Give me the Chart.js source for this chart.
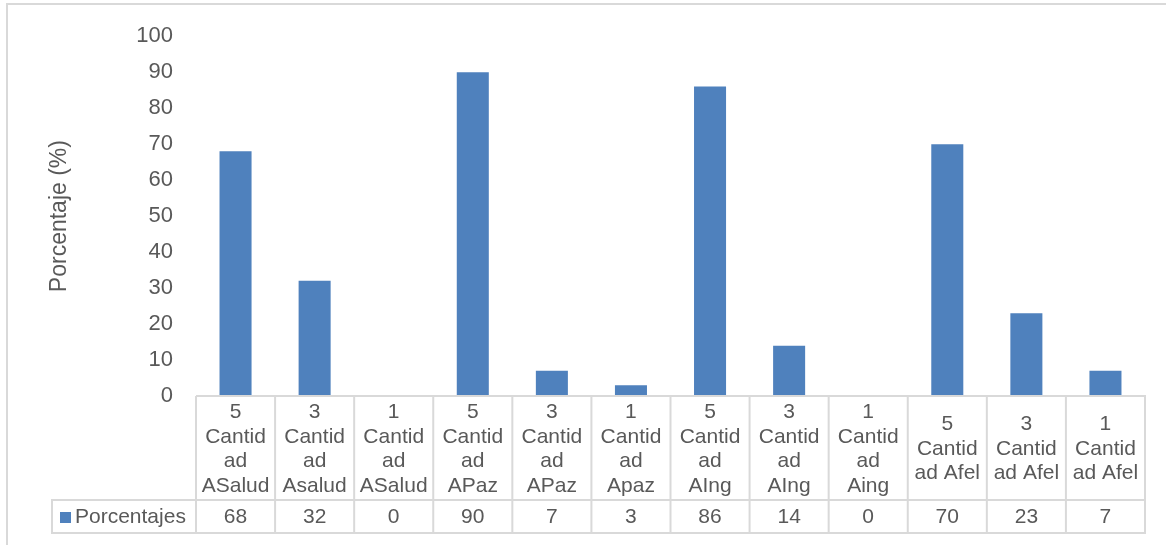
<!DOCTYPE html>
<html>
<head>
<meta charset="utf-8">
<script src="https://cdn.jsdelivr.net/npm/chart.js@4/dist/chart.umd.min.js"></script>
<style>
  html, body { margin: 0; padding: 0; background: #ffffff; }
  #wrap { width: 1166px; height: 545px; position: relative; }
</style>
</head>
<body>
<div id="wrap"><canvas id="c" width="1166" height="545"></canvas></div>
<script>
// Categories, series and axis settings
const categories = [
  '5 Cantidad ASalud', '3 Cantidad Asalud', '1 Cantidad ASalud',
  '5 Cantidad APaz', '3 Cantidad APaz', '1 Cantidad Apaz',
  '5 Cantidad AIng', '3 Cantidad AIng', '1 Cantidad Aing',
  '5 Cantidad Afel', '3 Cantidad Afel', '1 Cantidad Afel'
];
const seriesName = 'Porcentajes';
const porcentajes = [68, 32, 0, 90, 7, 3, 86, 14, 0, 70, 23, 7];
const yTitle = 'Porcentaje (%)';
const yMin = 0;
const yMax = 100;
const yStep = 10;

const FONT = "'Liberation Sans', Arial, sans-serif";
const TEXT = '#595959';
const LINE = '#d9d9d9';
const BAR = '#4f81bd';

// Wrap a label into lines no wider than maxW, breaking long words by characters
function wrapLabel(ctx, text, maxW) {
  const lines = [];
  let cur = '';
  for (const word of text.split(' ')) {
    const trial = cur ? cur + ' ' + word : word;
    if (ctx.measureText(trial).width <= maxW) { cur = trial; continue; }
    if (cur) { lines.push(cur); cur = ''; }
    let w = word;
    while (ctx.measureText(w).width > maxW && w.length > 1) {
      let n = w.length - 1;
      while (n > 1 && ctx.measureText(w.slice(0, n)).width > maxW) n--;
      lines.push(w.slice(0, n));
      w = w.slice(n);
    }
    cur = w;
  }
  if (cur) lines.push(cur);
  return lines;
}

// Data table drawn under the plot: category row, then legend key + values row
const dataTable = {
  id: 'dataTable',
  afterDraw(chart) {
    const ctx = chart.ctx;
    const xs = chart.scales.x;
    const area = chart.chartArea;
    const n = categories.length;
    const cellW = (area.right - area.left) / n;
    const rowTop = area.bottom;
    const rowMid = 500;
    const rowBot = 533;
    const legendLeft = 52;

    ctx.save();
    // outer chart frame
    ctx.strokeStyle = LINE;
    ctx.lineWidth = 2;
    ctx.strokeRect(7, 4, 1200, 600);

    // grid of the table
    ctx.beginPath();
    ctx.moveTo(area.left, rowTop); ctx.lineTo(area.right + 1, rowTop);
    ctx.moveTo(legendLeft, rowMid); ctx.lineTo(area.right + 1, rowMid);
    ctx.moveTo(legendLeft, rowBot); ctx.lineTo(area.right + 1, rowBot);
    ctx.moveTo(legendLeft, rowMid - 1); ctx.lineTo(legendLeft, rowBot + 1);
    for (let i = 0; i <= n; i++) {
      const x = area.left + i * cellW;
      ctx.moveTo(x, rowTop); ctx.lineTo(x, rowBot + 1);
    }
    ctx.stroke();

    ctx.fillStyle = TEXT;
    ctx.font = '21px ' + FONT;
    ctx.textAlign = 'center';
    ctx.textBaseline = 'middle';
    const lh = 24.5;
    const headMid = (rowTop + rowMid) / 2 + 1;
    categories.forEach((label, i) => {
      const cx = xs.getPixelForValue(i);
      const lines = wrapLabel(ctx, label, cellW - 10);
      const y0 = headMid - (lines.length - 1) * lh / 2;
      lines.forEach((ln, k) => ctx.fillText(ln, cx, y0 + k * lh));
      ctx.fillText(String(porcentajes[i]), cx, (rowMid + rowBot) / 2 + 1);
    });

    // legend key
    ctx.fillStyle = BAR;
    ctx.fillRect(60, 512, 11, 11);
    ctx.fillStyle = TEXT;
    ctx.textAlign = 'left';
    ctx.fillText(seriesName, 75, (rowMid + rowBot) / 2 + 1);
    ctx.restore();
  }
};

new Chart(document.getElementById('c'), {
  type: 'bar',
  data: {
    labels: categories,
    datasets: [{
      label: seriesName,
      data: porcentajes,
      backgroundColor: BAR,
      borderWidth: 0,
      barPercentage: 0.405,
      categoryPercentage: 1
    }]
  },
  options: {
    responsive: false,
    animation: false,
    layout: { padding: { left: 6, right: 21, top: 33, bottom: 149 } },
    plugins: { legend: { display: false }, tooltip: { enabled: false } },
    scales: {
      x: { display: false },
      y: {
        min: yMin,
        max: yMax,
        ticks: { stepSize: yStep, color: TEXT, font: { family: FONT, size: 22 }, padding: 23 },
        grid: { display: false, drawTicks: false },
        border: { display: false },
        title: {
          display: true,
          text: yTitle,
          color: TEXT,
          font: { family: FONT, size: 23 },
          padding: { top: 40, bottom: 0 }
        },
        afterFit(scale) { scale.width = 190; }
      }
    }
  },
  plugins: [dataTable]
});
</script>
</body>
</html>
